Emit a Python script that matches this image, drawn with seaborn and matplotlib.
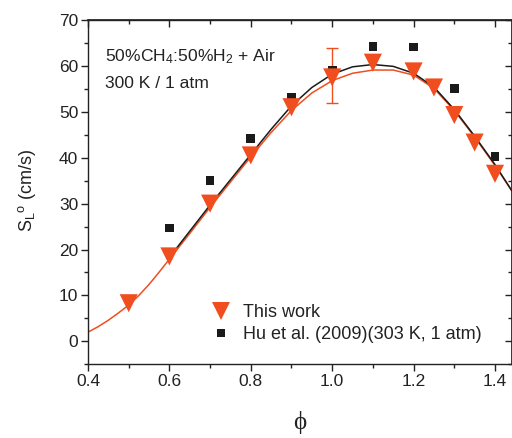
import numpy as np
import pandas as pd
import matplotlib
matplotlib.use("Agg")
import matplotlib.pyplot as plt
import seaborn as sns
from matplotlib.lines import Line2D

# ---- data ----
phi_this = [0.5, 0.6, 0.7, 0.8, 0.9, 1.0, 1.1, 1.2, 1.25, 1.3, 1.35, 1.4]
sl_this = [8.3, 18.5, 30.0, 40.5, 51.0, 57.5, 60.7, 58.8, 55.3, 49.3, 43.3, 36.5]

phi_hu = [0.6, 0.7, 0.8, 0.9, 1.0, 1.1, 1.2, 1.3, 1.4]
sl_hu = [24.7, 35.0, 44.2, 53.1, 59.0, 64.3, 64.1, 55.1, 40.2]

err_phi = [1.0]
err_val = [58.0]
err_lo = [6.0]
err_hi = [6.0]

fit_this_phi = [0.400, 0.425, 0.450, 0.475, 0.500, 0.525, 0.550, 0.575, 0.600, 0.650, 0.700,
                0.750, 0.800, 0.850, 0.900, 0.950, 1.000, 1.050, 1.100, 1.150, 1.200,
                1.250, 1.300, 1.350, 1.400, 1.445]
fit_this_sl = [2.0, 3.2, 4.6, 6.2, 7.9, 10.0, 12.4, 15.1, 17.9, 23.5, 29.2,
               34.7, 40.2, 45.5, 50.3, 54.1, 56.8, 58.4, 59.1, 59.1, 58.0,
               55.1, 50.3, 44.5, 38.3, 32.3]

fit_hu_phi = [0.60, 0.65, 0.70, 0.75, 0.80, 0.85, 0.90, 0.95, 1.00, 1.05, 1.10, 1.15,
              1.20, 1.25, 1.30, 1.35, 1.40, 1.445]
fit_hu_sl = [18.3, 24.0, 29.7, 35.2, 40.7, 46.2, 51.3, 55.3, 58.2, 59.8, 60.3, 59.9,
             58.4, 55.4, 50.5, 44.7, 38.5, 32.3]

x_ticks = [0.4, 0.6, 0.8, 1.0, 1.2, 1.4]
x_ticklabels = ["0.4", "0.6", "0.8", "1.0", "1.2", "1.4"]
y_ticks = [0, 10, 20, 30, 40, 50, 60, 70]

ORANGE = "#F04E1F"
BLACK = "#1a1a1a"
INK = "#222222"

sns.set_theme(style="ticks")
plt.rcParams["font.family"] = ["Liberation Sans", "DejaVu Sans"]
plt.rcParams["mathtext.fontset"] = "custom"
plt.rcParams["mathtext.rm"] = "Liberation Sans"
plt.rcParams["mathtext.it"] = "Liberation Sans"

fig = plt.figure(figsize=(5.12, 4.38), dpi=100)
W, H = 512, 438
left_px, right_px, top_px, bot_px = 88, 512.3, 20, 364.3
ax = fig.add_axes([left_px / W, 1 - bot_px / H, (right_px - left_px) / W, (bot_px - top_px) / H])

df_fit_this = pd.DataFrame({"phi": fit_this_phi, "sl": fit_this_sl})
df_fit_hu = pd.DataFrame({"phi": fit_hu_phi, "sl": fit_hu_sl})
df_this = pd.DataFrame({"phi": phi_this, "sl": sl_this})
df_hu = pd.DataFrame({"phi": phi_hu, "sl": sl_hu})

sns.lineplot(data=df_fit_this, x="phi", y="sl", ax=ax, color=ORANGE, lw=1.1,
             sort=True, estimator=None, zorder=2)
sns.lineplot(data=df_fit_hu, x="phi", y="sl", ax=ax, color=BLACK, lw=1.1,
             sort=True, estimator=None, zorder=2)

ax.errorbar(err_phi, err_val, yerr=[err_lo, err_hi], fmt="none", ecolor=ORANGE,
            elinewidth=1.0, capsize=4, capthick=1.0, zorder=1)

sns.scatterplot(data=df_hu, x="phi", y="sl", ax=ax, marker="s", s=40, color=BLACK,
                edgecolor="none", zorder=3)
sns.scatterplot(data=df_this, x="phi", y="sl", ax=ax, marker="v", s=170, color=ORANGE,
                edgecolor="none", zorder=4)

ax.set_xlim(0.4, 0.4 + (right_px - left_px) / 407.0)
ax.set_ylim(-5, 70)
ax.set_xticks(x_ticks)
ax.set_xticklabels(x_ticklabels)
ax.set_yticks(y_ticks)
ax.set_xticks(np.arange(0.5, 1.45, 0.2), minor=True)
ax.set_yticks(np.arange(-5, 70, 10), minor=True)

for s in ax.spines.values():
    s.set_color(INK)
    s.set_linewidth(1.0)

ax.tick_params(axis="both", which="major", direction="out", length=5, width=1.0,
               labelsize=12.5, colors=INK, labelcolor=INK, pad=2)
ax.tick_params(axis="both", which="minor", direction="out", length=3, width=1.0,
               colors=INK)
# inward ticks on mirror axes
secx = ax.secondary_xaxis("top")
secx.set_xticks(x_ticks)
secx.set_xticks(np.arange(0.5, 1.45, 0.2), minor=True)
secx.tick_params(which="major", direction="in", length=5, width=1.0, colors=INK)
secx.tick_params(which="minor", direction="in", length=3, width=1.0, colors=INK)
secx.set_xticklabels([])
secy = ax.secondary_yaxis("right")
secy.set_yticks(y_ticks)
secy.set_yticks(np.arange(-5, 70, 10), minor=True)
secy.tick_params(which="major", direction="in", length=5, width=1.0, colors=INK)
secy.tick_params(which="minor", direction="in", length=3, width=1.0, colors=INK)
secy.set_yticklabels([])

ax.set_xlabel("\u03d5", family=["Liberation Serif", "DejaVu Serif"], fontsize=18, color=INK, labelpad=16)
ax.set_ylabel(r"S$_\mathregular{L}$$^\mathregular{o}$ (cm/s)", fontsize=13, color=INK)
ax.yaxis.set_label_coords(-0.118, 0.505)

ax.text(0.04, 0.895, r"50%CH$_\mathregular{4}$:50%H$_\mathregular{2}$ + Air", transform=ax.transAxes,
        fontsize=12.6, color=INK, va="center", ha="left")
ax.text(0.04, 0.815, "300 K / 1 atm", transform=ax.transAxes,
        fontsize=12.6, color=INK, va="center", ha="left")

handles = [
    Line2D([], [], marker="v", color=ORANGE, linestyle="none", markersize=13, markeredgewidth=0),
    Line2D([], [], marker="s", color=BLACK, linestyle="none", markersize=5.8, markeredgewidth=0),
]
leg = ax.legend(handles, ["This work", "Hu et al. (2009)(303 K, 1 atm)"], loc="lower left",
                bbox_to_anchor=(0.265, 0.04), frameon=False, fontsize=13, handletextpad=0.45,
                labelspacing=0.3, handlelength=1.5, borderaxespad=0)
for t in leg.get_texts():
    t.set_color(INK)

fig.savefig("out.png", dpi=100)
